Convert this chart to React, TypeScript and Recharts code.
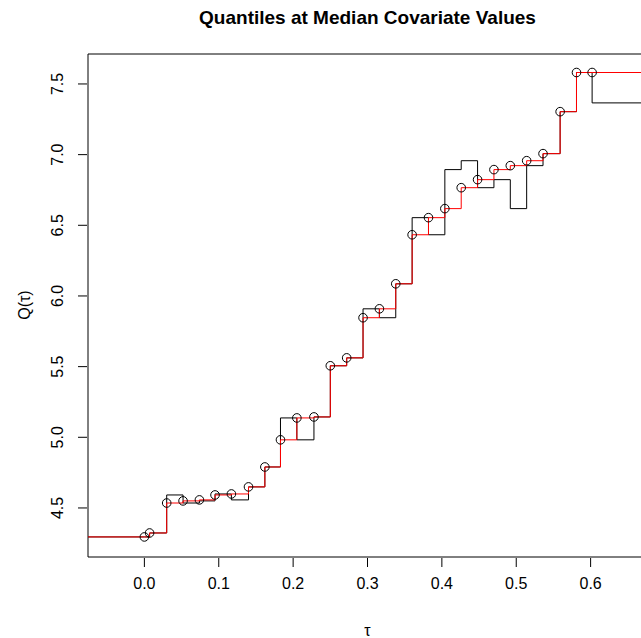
import React from "react";
import { ComposedChart, Line, XAxis, YAxis, ReferenceArea } from "recharts";

// knots of the step functions (tau) and the quantile values at each knot
const tau = [
  0, 0.007, 0.03, 0.052, 0.074, 0.095, 0.117, 0.14, 0.162, 0.183, 0.205, 0.228,
  0.25, 0.272, 0.294, 0.316, 0.338, 0.36, 0.382, 0.404, 0.426, 0.448, 0.47,
  0.492, 0.514, 0.536, 0.559, 0.581, 0.602,
];
// before rearrangement (black)
const beforeQ = [
  4.295, 4.323, 4.592, 4.535, 4.55, 4.599, 4.557, 4.649, 4.79, 5.137, 4.982,
  5.144, 5.506, 5.562, 5.909, 5.846, 6.086, 6.554, 6.433, 6.894, 6.957, 6.766,
  6.823, 6.618, 6.922, 7.007, 7.304, 7.581, 7.366,
];
// after rearrangement (red)
const afterQ = [
  4.295, 4.323, 4.535, 4.55, 4.557, 4.592, 4.599, 4.649, 4.79, 4.982, 5.137,
  5.144, 5.506, 5.562, 5.846, 5.909, 6.086, 6.433, 6.554, 6.618, 6.766, 6.823,
  6.894, 6.922, 6.957, 7.007, 7.304, 7.581, 7.581,
];
const xTicks = [0, 0.1, 0.2, 0.3, 0.4, 0.5, 0.6];
const yTicks = [4.5, 5, 5.5, 6, 6.5, 7, 7.5];

// axis limits (R style, 4% padding)
const X_MIN = -0.0758;
const X_MAX = 0.6758;
const Y_MIN = 4.153;
const Y_MAX = 7.712;

const FONT = "'Liberation Sans', Arial, Helvetica, sans-serif";

const last = tau.length - 1;
const rows = [
  { tau: X_MIN, before: beforeQ[0], after: afterQ[0], knot: false },
  ...tau.map((t, i) => ({ tau: t, before: beforeQ[i], after: afterQ[i], knot: true })),
  { tau: X_MAX, before: beforeQ[last], after: afterQ[last], knot: false },
];

const XTick = (props: any) => {
  const { x, y, payload } = props;
  return (
    <g>
      <line x1={x} x2={x} y1={y + 1} y2={y + 10} stroke="#000" />
      <text x={x} y={y + 26} textAnchor="middle" dominantBaseline="central" fontSize={16} fontFamily={FONT} fill="#000">
        {Number(payload.value).toFixed(1)}
      </text>
    </g>
  );
};

const YTick = (props: any) => {
  const { x, y, payload } = props;
  const tx = x - 30;
  return (
    <g>
      <line x1={x - 1} x2={x - 10} y1={y} y2={y} stroke="#000" />
      <text
        x={tx}
        y={y}
        textAnchor="middle"
        dominantBaseline="central"
        fontSize={16}
        fontFamily={FONT}
        fill="#000"
        transform={`rotate(-90 ${tx} ${y})`}
      >
        {Number(payload.value).toFixed(1)}
      </text>
    </g>
  );
};

const renderDot = (props: any) => {
  const { cx, cy, index, payload } = props;
  if (!payload || !payload.knot) return <g key={`d${index}`} />;
  return <circle key={`d${index}`} cx={cx} cy={cy} r={4.3} fill="none" stroke="#000" strokeWidth={1} />;
};

export default function App() {
  return (
    <div style={{ position: "absolute", left: 0, top: 0, width: 641, height: 638, overflow: "hidden", background: "#fff" }}>
      <ComposedChart width={700} height={638} data={rows} margin={{ top: 54, right: 53, bottom: 0, left: 0 }}>
        <XAxis
          type="number"
          dataKey="tau"
          domain={[X_MIN, X_MAX]}
          ticks={xTicks}
          allowDataOverflow
          axisLine={false}
          tickLine={false}
          tickSize={0}
          tickMargin={0}
          interval={0}
          height={81}
          tick={XTick}
        />
        <YAxis
          type="number"
          domain={[Y_MIN, Y_MAX]}
          ticks={yTicks}
          allowDataOverflow
          axisLine={false}
          tickLine={false}
          tickSize={0}
          tickMargin={0}
          interval={0}
          width={88}
          tick={YTick}
        />
        <ReferenceArea x1={X_MIN} x2={X_MAX} y1={Y_MIN} y2={Y_MAX} fill="none" fillOpacity={0} stroke="#000" strokeWidth={1} />
        <Line dataKey="before" type="stepAfter" stroke="#000" strokeWidth={1} dot={false} activeDot={false} isAnimationActive={false} />
        <Line dataKey="after" type="stepAfter" stroke="#ff0000" strokeWidth={1} dot={renderDot} activeDot={false} isAnimationActive={false} />
      </ComposedChart>
      <svg width={641} height={638} style={{ position: "absolute", left: 0, top: 0, pointerEvents: "none" }}>
        <text x={367.5} y={17} textAnchor="middle" dominantBaseline="central" fontSize={19} fontWeight="bold" fontFamily={FONT} fill="#000">
          Quantiles at Median Covariate Values
        </text>
        <text x={367.5} y={630} textAnchor="middle" dominantBaseline="central" fontSize={16} fontFamily={FONT} fill="#000">
          τ
        </text>
        <text
          x={24}
          y={305}
          textAnchor="middle"
          dominantBaseline="central"
          fontSize={16}
          fontFamily={FONT}
          fill="#000"
          transform="rotate(-90 24 305)"
        >
          Q(τ)
        </text>
      </svg>
    </div>
  );
}
